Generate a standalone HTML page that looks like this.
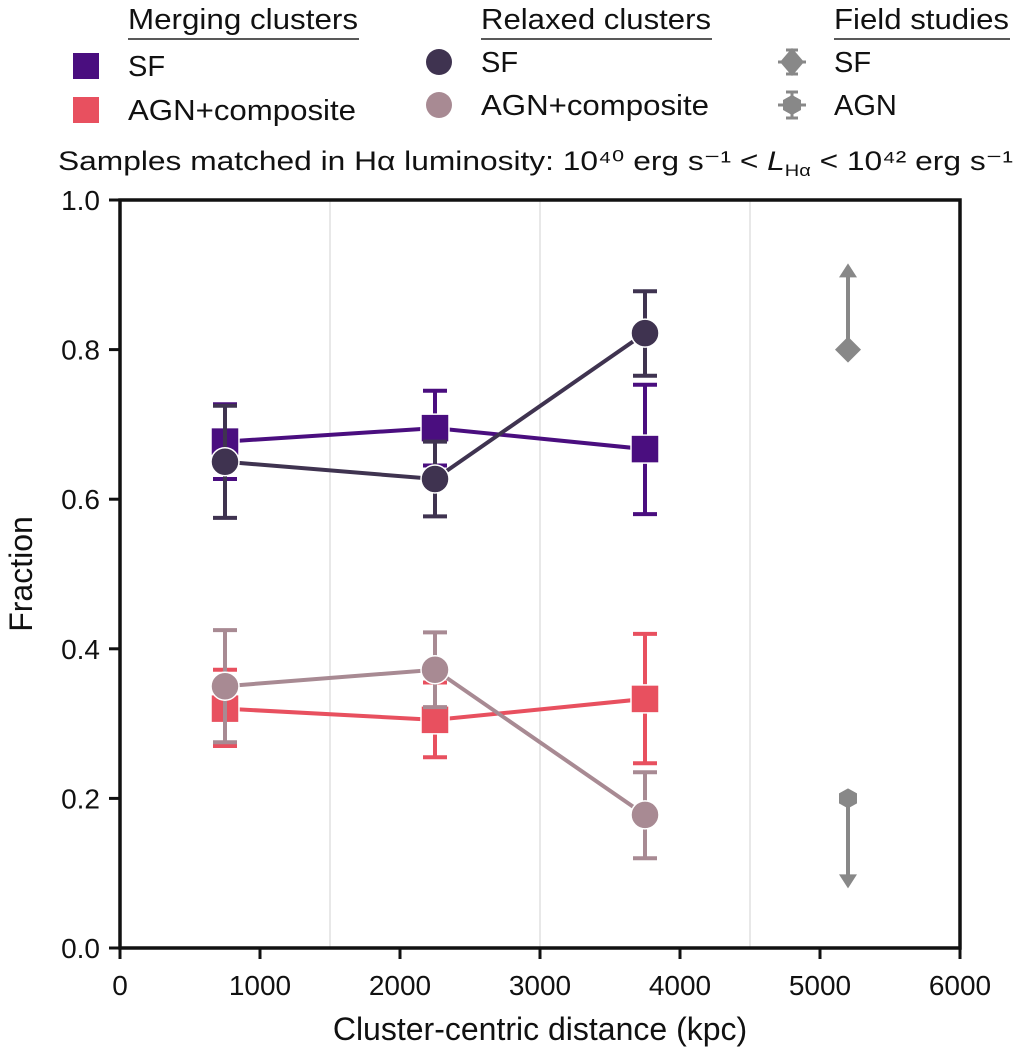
<!DOCTYPE html>
<html><head><meta charset="utf-8"><style>
html,body{margin:0;padding:0;background:#fff}
svg text{font-family:"Liberation Sans",Arial,sans-serif;fill:#111}
</style></head><body>
<svg id="chart" width="1020" height="1052" viewBox="0 0 1020 1052" xmlns="http://www.w3.org/2000/svg">
<g id="legend">
  <text x="128" y="29" font-size="29" textLength="230" lengthAdjust="spacingAndGlyphs">Merging clusters</text>
  <line x1="128" y1="39" x2="359" y2="39" stroke="#222" stroke-width="1.5"/>
  <text x="481" y="29" font-size="29" textLength="230" lengthAdjust="spacingAndGlyphs">Relaxed clusters</text>
  <line x1="481" y1="39" x2="712" y2="39" stroke="#222" stroke-width="1.5"/>
  <text x="834" y="29" font-size="29" textLength="175" lengthAdjust="spacingAndGlyphs">Field studies</text>
  <line x1="834" y1="39" x2="1010" y2="39" stroke="#222" stroke-width="1.5"/>
  <g><rect x="73" y="53" width="26" height="26" fill="#4a0e7f"/><text x="128" y="76" font-size="29">SF</text></g>
  <g><rect x="73" y="97" width="26" height="26" fill="#e8505f"/><text x="128" y="120" font-size="29" textLength="228" lengthAdjust="spacingAndGlyphs">AGN+composite</text></g>
  <g><circle cx="439" cy="62" r="13" fill="#3f3350"/><text x="481" y="72" font-size="29">SF</text></g>
  <g><circle cx="439" cy="105" r="13" fill="#a88a93"/><text x="481" y="115" font-size="29" textLength="228" lengthAdjust="spacingAndGlyphs">AGN+composite</text></g>
  <g stroke="#888" stroke-width="3" fill="#888"><line x1="792" y1="50" x2="792" y2="74"/><line x1="786" y1="50" x2="798" y2="50"/><line x1="786" y1="74" x2="798" y2="74"/><line x1="778" y1="62" x2="806" y2="62"/><polygon points="792,48 804,62 792,76 780,62" stroke="none"/><text x="834" y="72" font-size="29" stroke="none" fill="#111">SF</text></g>
  <g stroke="#888" stroke-width="3" fill="#888"><line x1="792" y1="92" x2="792" y2="118"/><line x1="786" y1="92" x2="798" y2="92"/><line x1="786" y1="118" x2="798" y2="118"/><line x1="778" y1="105" x2="806" y2="105"/><polygon points="792,95 801,100 801,110 792,115 783,110 783,100" stroke="none"/><text x="834" y="115" font-size="29" stroke="none" fill="#111">AGN</text></g>
</g>
<text x="58" y="170" font-size="27" textLength="955" lengthAdjust="spacingAndGlyphs">Samples matched in Hα luminosity: 10⁴⁰ erg s⁻¹ &lt; <tspan font-style="italic">L</tspan><tspan font-size="17" dy="6">Hα</tspan><tspan dy="-6"> &lt; 10⁴² erg s⁻¹</tspan></text>
<g id="grid"></g>
<g id="axes"></g>
<g id="series"></g>
<rect x="120" y="200" width="840" height="748" fill="none" stroke="#111" stroke-width="3.5"/>
<text x="540" y="1040" font-size="32" text-anchor="middle">Cluster-centric distance (kpc)</text>
<text transform="translate(32,574) rotate(-90)" font-size="32" text-anchor="middle">Fraction</text>
</svg>
<script>
const xCats = [750, 2250, 3750];
const mergSF = [0.677, 0.695, 0.667];
const mergSFlo = [0.627, 0.645, 0.580];
const mergSFhi = [0.727, 0.745, 0.753];
const relSF = [0.650, 0.627, 0.822];
const relSFlo = [0.575, 0.577, 0.765];
const relSFhi = [0.725, 0.677, 0.878];
const mergAGN = [0.320, 0.305, 0.333];
const mergAGNlo = [0.270, 0.255, 0.247];
const mergAGNhi = [0.372, 0.355, 0.420];
const relAGN = [0.350, 0.372, 0.178];
const relAGNlo = [0.275, 0.322, 0.120];
const relAGNhi = [0.425, 0.422, 0.235];
const fieldX = [5200];
const fieldSF = [0.80];
const fieldSFlimit = [0.91];
const fieldAGN = [0.20];
const fieldAGNlimit = [0.085];
const xTicks = [0, 1000, 2000, 3000, 4000, 5000, 6000];
const yTicks = [0.0, 0.2, 0.4, 0.6, 0.8, 1.0];
const yTickLabels = ["0.0", "0.2", "0.4", "0.6", "0.8", "1.0"];
const gridX = [1500, 3000, 4500];

const NS = "http://www.w3.org/2000/svg";
const X = v => 120 + v / 6000 * 840;
const Y = v => 948 - v * 748;
function mk(tag, attrs, parent) {
  const e = document.createElementNS(NS, tag);
  for (const k in attrs) e.setAttribute(k, attrs[k]);
  parent.appendChild(e); return e;
}
const grid = document.getElementById('grid'), axes = document.getElementById('axes'), ser = document.getElementById('series');
gridX.forEach(v => {
  const l = mk('line', {x1: X(v), x2: X(v), y1: 200, y2: 948, stroke: '#d0d0d0', 'stroke-width': 1}, grid);
  
  
});
xTicks.forEach(v => {
  mk('line', {x1: X(v), x2: X(v), y1: 948, y2: 959, stroke: '#111', 'stroke-width': 3}, axes);
  const t = mk('text', {x: X(v), y: 995, 'font-size': 28, 'text-anchor': 'middle'}, axes);
  t.textContent = v;
  
  
});
yTicks.forEach((v, i) => {
  mk('line', {x1: 109, x2: 120, y1: Y(v), y2: Y(v), stroke: '#111', 'stroke-width': 3}, axes);
  const t = mk('text', {x: 100, y: Y(v) + 10, 'font-size': 28, 'text-anchor': 'end'}, axes);
  t.textContent = yTickLabels[i];
  
  
});
function series(name, vals, lo, hi, color, shape) {
  const g = mk('g', {}, ser);
  
  
  mk('polyline', {points: xCats.map((x, i) => X(x) + ',' + Y(vals[i])).join(' '), fill: 'none', stroke: color, 'stroke-width': 4}, g);
  xCats.forEach((x, i) => {
    const cx = X(x);
    mk('line', {x1: cx, x2: cx, y1: Y(lo[i]), y2: Y(hi[i]), stroke: color, 'stroke-width': 4}, g);
    [lo[i], hi[i]].forEach(v => mk('line', {x1: cx - 12, x2: cx + 12, y1: Y(v), y2: Y(v), stroke: color, 'stroke-width': 4}, g));
  });
  xCats.forEach((x, i) => {
    let m;
    if (shape === 'sq') m = mk('rect', {x: X(x) - 14, y: Y(vals[i]) - 14, width: 28, height: 28, fill: color, stroke: '#fff', 'stroke-width': 1.5}, g);
    else m = mk('circle', {cx: X(x), cy: Y(vals[i]), r: 14, fill: color, stroke: '#fff', 'stroke-width': 1.5}, g);
    
    
  });
}
series('merging-sf', mergSF, mergSFlo, mergSFhi, '#4a0e7f', 'sq');
series('merging-agn', mergAGN, mergAGNlo, mergAGNhi, '#e8505f', 'sq');
series('relaxed-sf', relSF, relSFlo, relSFhi, '#3f3350', 'c');
series('relaxed-agn', relAGN, relAGNlo, relAGNhi, '#a88a93', 'c');
const fg = mk('g', {}, ser);


fieldX.forEach((x, i) => {
  const cx = X(x);
  const ys = Y(fieldSF[i]), ysl = Y(fieldSFlimit[i]);
  mk('line', {x1: cx, x2: cx, y1: ys, y2: ysl + 8, stroke: '#888', 'stroke-width': 4}, fg);
  mk('polygon', {points: `${cx},${ysl-4} ${cx+9},${ysl+10} ${cx-9},${ysl+10}`, fill: '#888'}, fg);
  const d = mk('polygon', {points: `${cx},${ys-13} ${cx+13},${ys} ${cx},${ys+13} ${cx-13},${ys}`, fill: '#888'}, fg);
  
  
  const ya = Y(fieldAGN[i]), yal = Y(fieldAGNlimit[i]);
  mk('line', {x1: cx, x2: cx, y1: ya, y2: yal - 8, stroke: '#888', 'stroke-width': 4}, fg);
  mk('polygon', {points: `${cx},${yal+4} ${cx+9},${yal-10} ${cx-9},${yal-10}`, fill: '#888'}, fg);
  const h = mk('polygon', {points: `${cx},${ya-10} ${cx+9},${ya-5} ${cx+9},${ya+5} ${cx},${ya+10} ${cx-9},${ya+5} ${cx-9},${ya-5}`, fill: '#888'}, fg);
  
  
});
</script>
</body></html>
